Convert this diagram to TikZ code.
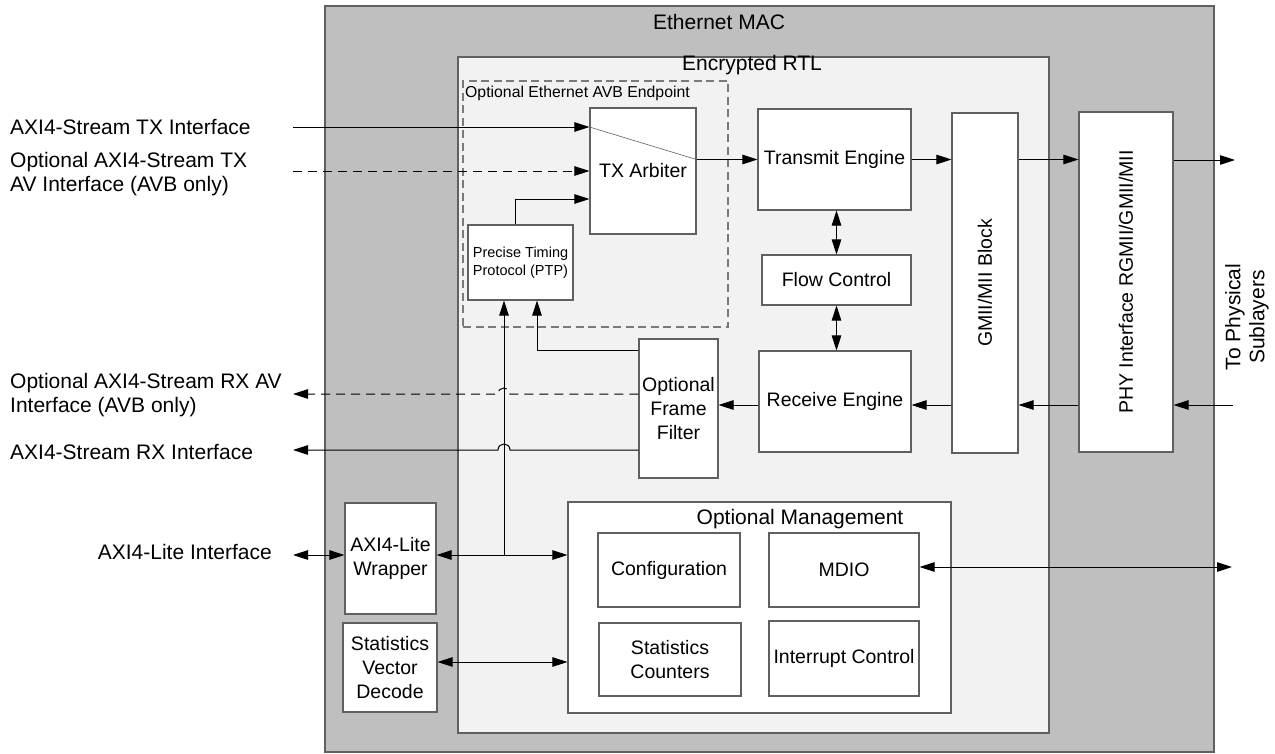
\documentclass[tikz,border=0pt]{standalone}
\usepackage{fontspec}
\setmainfont{Liberation Sans}
\usetikzlibrary{arrows.meta,calc}
\definecolor{macgray}{HTML}{BFBFBF}
\definecolor{rtlgray}{HTML}{F2F2F2}
\definecolor{edgegray}{HTML}{606060}
\definecolor{dashgray}{HTML}{7A7A7A}
\newcommand\fsz[2]{\fontsize{#1}{#2}\selectfont}
\tikzset{
  box/.style={draw=edgegray, fill=white, line width=1.1pt, align=center, inner sep=1pt, font=\fsz{19.5}{24}},
  conn/.style={line width=1pt, -{Triangle[length=15pt,width=9.5pt]}},
  bidir/.style={line width=1pt, {Triangle[length=15pt,width=9.5pt]}-{Triangle[length=15pt,width=9.5pt]}},
  lbl/.style={font=\fsz{21}{24}, align=left, inner sep=0pt},
  title/.style={font=\fsz{21}{24}, inner sep=0pt},
  dashconn/.style={dash pattern=on 9pt off 6pt},
}
\begin{document}
\begin{tikzpicture}[x=1pt,y=-1pt]
\useasboundingbox (0,0) rectangle (1275,753);
% containers
\node[draw=edgegray, fill=macgray, line width=1.1pt, inner sep=0, minimum width=889, minimum height=746] (mac) at (769.5,379) {};
\node[title] (mactitle) at (719,22) {Ethernet MAC};
\node[draw=edgegray, fill=rtlgray, line width=1.1pt, inner sep=0, minimum width=591, minimum height=676] (rtl) at (753.5,395) {};
\node[title] (rtltitle) at (752,65) {Encrypted RTL};
\node[draw=dashgray, line width=1.1pt, dash pattern=on 8pt off 4.5pt, inner sep=0, minimum width=265, minimum height=246] (avb) at (595.5,204) {};
\node[font=\fsz{15.8}{18}, anchor=west, inner sep=0] (avbtitle) at (465,93) {Optional Ethernet AVB Endpoint};
\node[box, inner sep=0, minimum width=383, minimum height=211] (mgmt) at (759.5,607.5) {};
\node[title] (mgmttitle) at (800,519) {Optional Management};
% blocks
\node[box, minimum width=106, minimum height=126] (txarb) at (643,171) {TX Arbiter};
\node[box, font=\fsz{14.5}{18}, minimum width=105, minimum height=75] (ptp) at (520.5,262.5) {Precise Timing\\Protocol (PTP)};
\node[box, minimum width=153, minimum height=101] (txe) at (834.5,159.5) {Transmit Engine};
\node[box, minimum width=149, minimum height=50] (flow) at (836.5,280) {Flow Control};
\node[box, minimum width=152, minimum height=101] (rxe) at (835,401.5) {Receive Engine};
\node[box, minimum width=66, minimum height=340] (gmii) at (985,283) {};
\node[font=\fsz{19.5}{24}, rotate=90] (gmiitext) at (gmii.center) {GMII/MII Block};
\node[box, minimum width=94, minimum height=340] (phy) at (1126,282) {};
\node[font=\fsz{19.5}{24}, rotate=90] (phytext) at (phy.center) {PHY Interface RGMII/GMII/MII};
\node[box, minimum width=79, minimum height=139] (filter) at (678.5,408.5) {Optional\\Frame\\Filter};
\node[box, minimum width=91, minimum height=111] (wrap) at (390.5,558.5) {AXI4-Lite\\Wrapper};
\node[box, minimum width=94, minimum height=89] (svd) at (390,667.5) {Statistics\\Vector\\Decode};
\node[box, minimum width=142, minimum height=74] (conf) at (669,570) {Configuration};
\node[box, minimum width=150, minimum height=74] (mdio) at (844,570) {MDIO};
\node[box, minimum width=142, minimum height=73] (stc) at (670,659.5) {Statistics\\Counters};
\node[box, minimum width=150, minimum height=75] (intr) at (844,658.5) {Interrupt Control};
% left labels
\node[lbl, anchor=west] (l1) at (10,127) {AXI4-Stream TX Interface};
\node[lbl, anchor=west] (l2) at (10,174) {Optional AXI4-Stream TX\\AV Interface (AVB only)};
\node[lbl, anchor=west] (l3) at (10,395) {Optional AXI4-Stream RX AV\\Interface (AVB only)};
\node[lbl, anchor=west] (l4) at (10,452) {AXI4-Stream RX Interface};
\node[lbl, anchor=east] (l5) at (272,552) {AXI4-Lite Interface};
\node[font=\fsz{21}{24}, rotate=90, align=center, inner sep=0] (tophys) at (1247,317) {To Physical\\Sublayers};
% coordinates
\coordinate (txin) at (293,127);
\coordinate (avin) at (293,171);
\coordinate (phyout) at (1235,160);
\coordinate (phyin) at (1233,405);
\coordinate (fy1) at (0,350);
\coordinate (rxav) at (293,394);
\coordinate (rxs) at (293,450);
\coordinate (axil) at (293,555);
\coordinate (svdy) at (0,662);
\coordinate (mdioout) at (1232,567);
\coordinate (ptpin1) at ($(ptp.south)+(-16.5,0)$);
\coordinate (ptpin2) at ($(ptp.south)+(16.5,0)$);
\coordinate (ptpout) at ($(ptp.north)+(-5.5,0)$);
% TX path
\draw[conn] (txin) -- (txin -| txarb.west);
\draw[line width=0.6pt, edgegray] (txin -| txarb.west) -- (txarb.east |- txe.west);
\draw[conn, dashconn] (avin) -- (avin -| txarb.west);
\draw[conn] (ptpout) |- ($(txarb.west)+(0,28)$);
\draw[conn] (txarb.east |- txe.west) -- (txe.west);
\draw[conn] (txe.east) -- (txe.east -| gmii.west);
\draw[conn] (txe.east -| gmii.east) -- (txe.east -| phy.west);
\draw[conn] (phy.east |- phyout) -- (phyout);
% RX path
\draw[conn] (phyin) -- (phyin -| phy.east);
\draw[conn] (phyin -| phy.west) -- (phyin -| gmii.east);
\draw[conn] (phyin -| gmii.west) -- (phyin -| rxe.east);
\draw[conn] (phyin -| rxe.west) -- (phyin -| filter.east);
\draw[bidir] (flow.north |- txe.south) -- (flow.north);
\draw[bidir] (flow.south) -- (flow.south |- rxe.north);
\draw[conn] (filter.west |- fy1) -| (ptpin2);
\draw[conn, dashconn] (filter.west |- rxav) -- ($(ptpin1 |- rxav)+(6,0)$) .. controls ($(ptpin1 |- rxav)+(6,-8)$) and ($(ptpin1 |- rxav)+(-6,-8)$) .. ($(ptpin1 |- rxav)+(-6,0)$) -- (rxav);
\draw[conn] (filter.west |- rxs) -- ($(ptpin1 |- rxs)+(6,0)$) .. controls ($(ptpin1 |- rxs)+(6,-8)$) and ($(ptpin1 |- rxs)+(-6,-8)$) .. ($(ptpin1 |- rxs)+(-6,0)$) -- (rxs);
% management
\draw[bidir] (axil) -- (axil -| wrap.west);
\draw[bidir] (axil -| wrap.east) -- (axil -| mgmt.west);
\draw[conn] (ptpin1 |- axil) -- (ptpin1);
\draw[bidir] (svdy -| svd.east) -- (svdy -| mgmt.west);
\draw[bidir] (mdio.east |- mdioout) -- (mdioout);
\end{tikzpicture}
\end{document}
